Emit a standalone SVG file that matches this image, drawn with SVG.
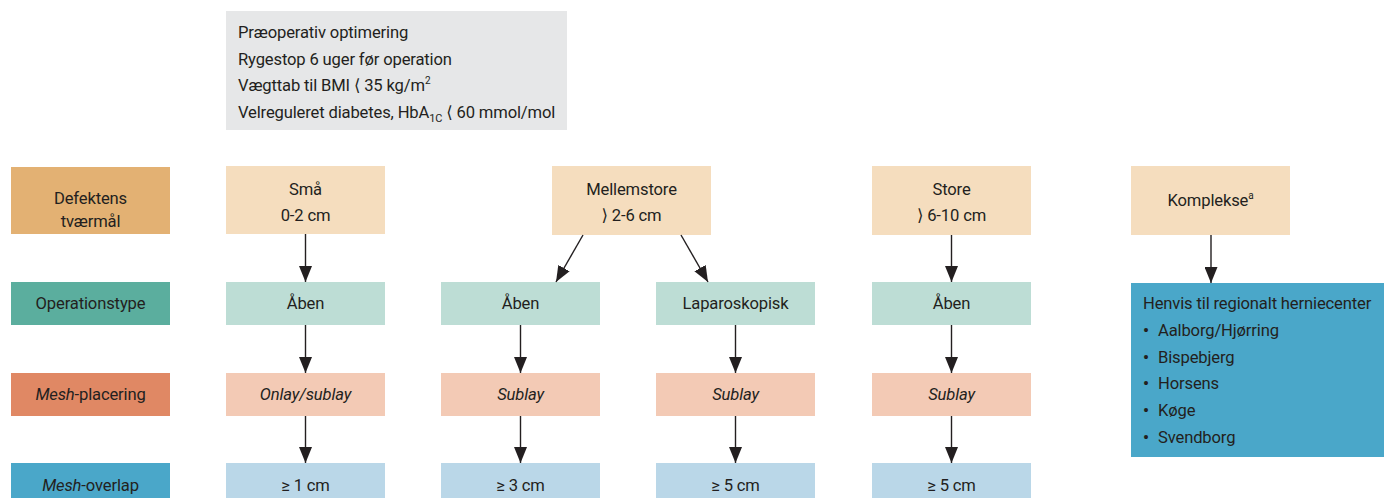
<svg xmlns="http://www.w3.org/2000/svg" width="1384" height="498" viewBox="0 0 1384 498">
<style>
text{font-family:Roboto,"Liberation Sans","DejaVu Sans",sans-serif;font-size:16.6px;letter-spacing:-0.15px;fill:#231f20}
.c{text-anchor:middle}
.i{font-style:italic}
.b{font-weight:bold}
.gray{fill:#e6e7e8}
.h1{fill:#e3b173}.l1{fill:#f5ddbe}
.h2{fill:#5bae9e}.l2{fill:#bdddd5}
.h3{fill:#e08864}.l3{fill:#f3cab5}
.h4{fill:#4aa7c9}.l4{fill:#bad7e8}
.conn line{stroke:#231f20;stroke-width:1.4;marker-end:url(#ah)}
</style>
<defs>
<marker id="ah" markerUnits="userSpaceOnUse" markerWidth="16" markerHeight="13" viewBox="0 0 16 13" refX="16" refY="6.5" orient="auto">
<path d="M0,0 L16,6.5 L0,13 z" fill="#231f20"/>
</marker>
</defs>
<rect width="1384" height="498" fill="#fff"/>
<g id="preop">
<rect class="gray" x="226" y="11" width="341" height="119"/>
<text x="238" y="38">Præoperativ optimering</text>
<text x="238" y="65">Rygestop 6 uger før operation</text>
<text x="238" y="91">Vægttab til BMI ⟨ 35 kg/m<tspan font-size="10" dy="-7">2</tspan></text>
<text x="238" y="118">Velreguleret diabetes, HbA<tspan font-size="11" dy="4">1C</tspan><tspan dy="-4"> ⟨ 60 mmol/mol</tspan></text>
</g>
<g id="label-defekt"><rect class="h1" x="11" y="167" width="159" height="67"/><text class="c" x="90.5" y="204">Defektens</text><text class="c" x="90.5" y="227">tværmål</text></g>
<g id="smaa"><rect class="l1" x="226" y="166" width="159" height="68"/><text class="c" x="305.5" y="195">Små</text><text class="c" x="305.5" y="221">0-2 cm</text></g>
<g id="mellem"><rect class="l1" x="552" y="166" width="159" height="69"/><text class="c" x="631.5" y="195">Mellemstore</text><text class="c" x="631.5" y="221">⟩ 2-6 cm</text></g>
<g id="store"><rect class="l1" x="872" y="166" width="159" height="69"/><text class="c" x="951.5" y="195">Store</text><text class="c" x="951.5" y="221">⟩ 6-10 cm</text></g>
<g id="kompl"><rect class="l1" x="1131" y="166" width="159" height="69"/><text class="c" x="1210.5" y="206">Komplekse<tspan font-size="10" dy="-7">a</tspan></text></g>

<g id="label-op"><rect class="h2" x="11" y="282" width="159" height="43"/><text class="c" x="90.5" y="309">Operationstype</text></g>
<g id="op1"><rect class="l2" x="226" y="282" width="159" height="43"/><text class="c" x="305.5" y="309">Åben</text></g>
<g id="op2"><rect class="l2" x="441" y="282" width="159" height="43"/><text class="c" x="520.5" y="309">Åben</text></g>
<g id="op3"><rect class="l2" x="656" y="282" width="159" height="43"/><text class="c" x="735.5" y="309">Laparoskopisk</text></g>
<g id="op4"><rect class="l2" x="872" y="282" width="159" height="43"/><text class="c" x="951.5" y="309">Åben</text></g>
<g id="henvis"><rect class="h4" x="1131" y="283" width="253" height="174"/>
<text x="1143" y="309">Henvis til regionalt herniecenter</text>
<text class="b" x="1143" y="336">•</text><text x="1158" y="336">Aalborg/Hjørring</text>
<text class="b" x="1143" y="363">•</text><text x="1158" y="363">Bispebjerg</text>
<text class="b" x="1143" y="389">•</text><text x="1158" y="389">Horsens</text>
<text class="b" x="1143" y="416">•</text><text x="1158" y="416">Køge</text>
<text class="b" x="1143" y="443">•</text><text x="1158" y="443">Svendborg</text>
</g>

<g id="label-mesh"><rect class="h3" x="11" y="373" width="159" height="43"/><text class="c" x="90.5" y="400"><tspan class="i">Mesh</tspan>-placering</text></g>
<g id="m1"><rect class="l3" x="226" y="373" width="159" height="43"/><text class="c i" x="305.5" y="400">Onlay/sublay</text></g>
<g id="m2"><rect class="l3" x="441" y="373" width="159" height="43"/><text class="c i" x="520.5" y="400">Sublay</text></g>
<g id="m3"><rect class="l3" x="656" y="373" width="159" height="43"/><text class="c i" x="735.5" y="400">Sublay</text></g>
<g id="m4"><rect class="l3" x="872" y="373" width="159" height="43"/><text class="c i" x="951.5" y="400">Sublay</text></g>

<g id="label-overlap"><rect class="h4" x="11" y="463" width="159" height="40"/><text class="c" x="90.5" y="491"><tspan class="i">Mesh</tspan>-overlap</text></g>
<g id="o1"><rect class="l4" x="226" y="463" width="159" height="40"/><text class="c" x="305.5" y="491">≥ 1 cm</text></g>
<g id="o2"><rect class="l4" x="441" y="463" width="159" height="40"/><text class="c" x="520.5" y="491">≥ 3 cm</text></g>
<g id="o3"><rect class="l4" x="656" y="463" width="159" height="40"/><text class="c" x="735.5" y="491">≥ 5 cm</text></g>
<g id="o4"><rect class="l4" x="872" y="463" width="159" height="40"/><text class="c" x="951.5" y="491">≥ 5 cm</text></g>

<g id="connectors" class="conn">
<line x1="305.5" y1="234" x2="305.5" y2="282"/>
<line x1="583" y1="235" x2="556" y2="282"/>
<line x1="681" y1="235" x2="708" y2="282"/>
<line x1="951.5" y1="235" x2="951.5" y2="282"/>
<line x1="1211" y1="235" x2="1211" y2="283"/>
<line x1="305.5" y1="325" x2="305.5" y2="373"/>
<line x1="520.5" y1="325" x2="520.5" y2="373"/>
<line x1="735.5" y1="325" x2="735.5" y2="373"/>
<line x1="951.5" y1="325" x2="951.5" y2="373"/>
<line x1="305.5" y1="416" x2="305.5" y2="463"/>
<line x1="520.5" y1="416" x2="520.5" y2="463"/>
<line x1="735.5" y1="416" x2="735.5" y2="463"/>
<line x1="951.5" y1="416" x2="951.5" y2="463"/>
</g>
</svg>
